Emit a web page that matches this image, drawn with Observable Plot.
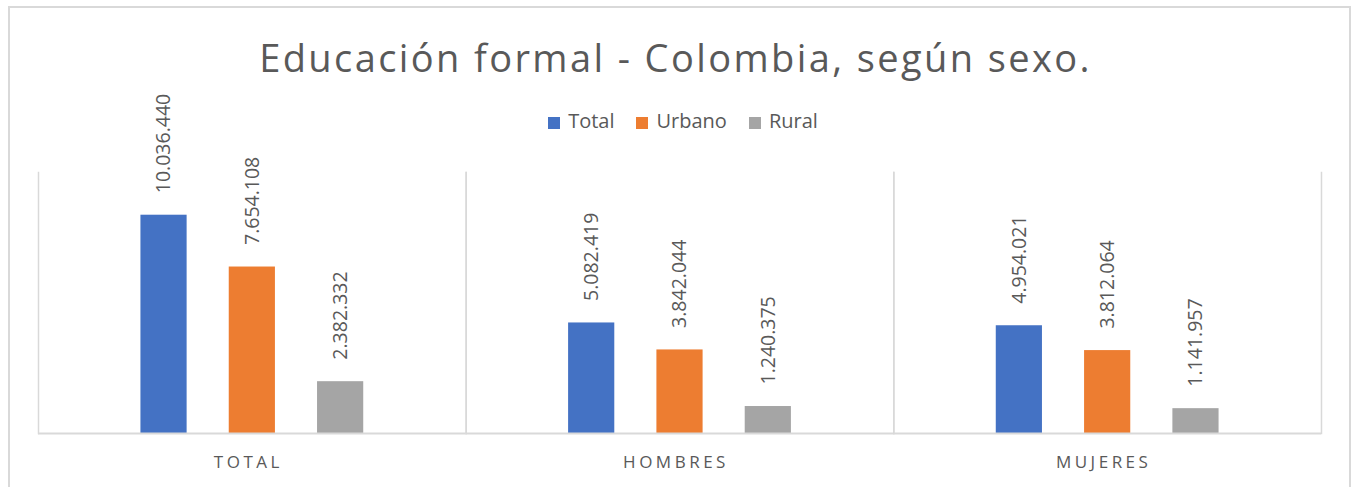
<!DOCTYPE html>
<html><head><meta charset="utf-8">
<script src="https://cdn.jsdelivr.net/npm/d3@7"></script>
<script src="https://cdn.jsdelivr.net/npm/@observablehq/plot@0.6"></script>
<style>
body{margin:0;background:#fff;font-family:"Open Sans",sans-serif;color:#595959;}
#wrap{position:relative;width:1351px;height:487px;overflow:hidden;}
#border{position:absolute;left:8px;top:6px;width:1339px;height:500px;border:2px solid #d9d9d9;pointer-events:none;}
#title{height:96px;box-sizing:border-box;padding-top:35px;font-size:38px;line-height:44px;text-align:center;letter-spacing:2.4px;color:#595959;}
#legend{height:48px;box-sizing:border-box;padding-top:13px;line-height:24px;font-size:20px;text-align:center;color:#595959;padding-left:15px;}
#legend span.item{display:inline-block;margin:0 11px;}
#legend span.sw{display:inline-block;width:12px;height:12px;margin-right:8px;vertical-align:-1px;}
#chart svg{overflow:visible;position:relative;}
g[aria-label="fx-axis tick label"] text{letter-spacing:3.5px;}
</style></head>
<body>
<div id="wrap">
<div id="border"></div>
<div id="title">Educación formal - Colombia, según sexo.</div>
<div id="legend"></div>
<div id="chart"></div>
</div>
<script>
const groups = ["TOTAL", "HOMBRES", "MUJERES"];
const series = ["Total", "Urbano", "Rural"];
const colors = ["#4472C4", "#ED7D31", "#A5A5A5"];
const totalValues = [10036440, 5082419, 4954021];
const urbanoValues = [7654108, 3842044, 3812064];
const ruralValues = [2382332, 1240375, 1141957];

const seriesValues = [totalValues, urbanoValues, ruralValues];
const data = [];
groups.forEach((g, i) => series.forEach((s, j) => data.push({group: g, serie: s, value: seriesValues[j][i]})));

const fmt = v => d3.format(",")(v).replace(/,/g, ".");

const legend = document.getElementById("legend");
series.forEach((s, j) => {
  const it = document.createElement("span");
  it.className = "item";
  it.innerHTML = `<span class="sw" style="background:${colors[j]}"></span>${s}`;
  legend.appendChild(it);
});

const chart = Plot.plot({
  width: 1351,
  height: 343,
  marginTop: 28,
  marginBottom: 54,
  marginLeft: 38,
  marginRight: 30,
  style: {fontFamily: "Open Sans, sans-serif", color: "#595959", background: "transparent", overflow: "visible"},
  fx: {domain: groups, padding: 0, label: null, round: false},
  x: {domain: series, paddingInner: 0.477, paddingOuter: 1.16, axis: null, round: false},
  y: {domain: [0, 12000000], axis: null},
  color: {domain: series, range: colors},
  marks: [
    Plot.frame({anchor: "left", stroke: "#d9d9d9", strokeWidth: 1.5}),
    Plot.frame({anchor: "right", stroke: "#d9d9d9", strokeWidth: 1.5}),
    Plot.barY(data, {fx: "group", x: "serie", y: "value", fill: "serie"}),
    Plot.ruleY([0], {stroke: "#d9d9d9", strokeWidth: 2}),
    Plot.text(data, {fx: "group", x: "serie", y: "value", text: d => fmt(d.value), rotate: -90, textAnchor: "start", dy: -22, fontSize: 19.5, fill: "#595959"}),
    Plot.axisFx({anchor: "bottom", tickSize: 0, tickPadding: 22, dx: -4, fontSize: 17, label: null, color: "#595959"})
  ]
});
document.getElementById("chart").appendChild(chart);
</script>
</body></html>
